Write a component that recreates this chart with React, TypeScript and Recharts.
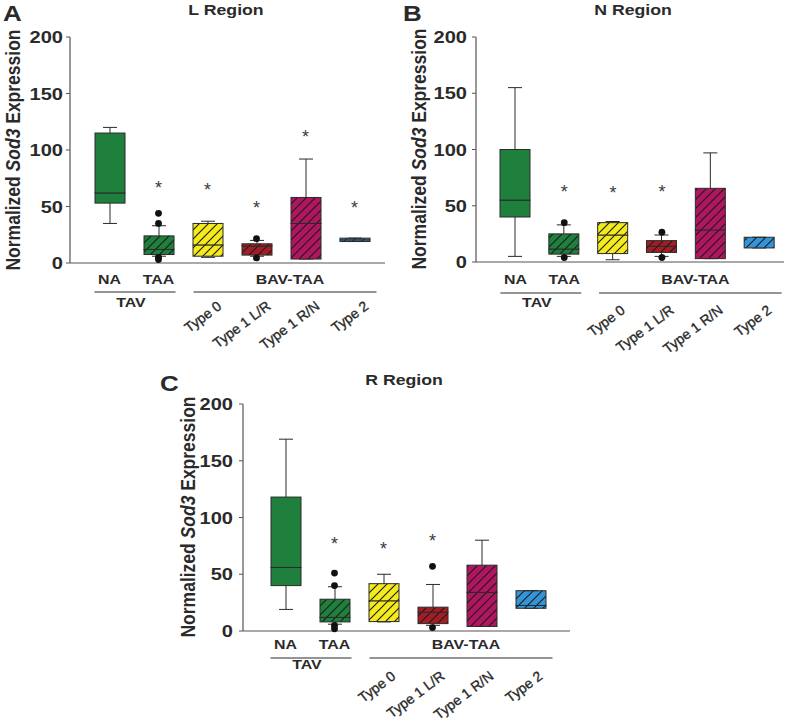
import { Bar, ComposedChart, Line, XAxis, YAxis } from "recharts";

const FONT = "Arial, 'Liberation Sans', Helvetica, sans-serif";
const INK = "#2a2a2a";
const STRETCH = 1.18;

const CATEGORIES = ["NA", "TAA", "Type 0", "Type 1 L/R", "Type 1 R/N", "Type 2"];
const Y_TICKS = [0, 50, 100, 150, 200];

// per-category fill; NA is the only solid box, the rest are hatched
const COLORS = ["#1f7f3c", "#1f7f3c", "#f4ea1c", "#a51d24", "#b0165f", "#3394d8"];
const HATCHED = [false, true, true, true, true, true];

// L region (panel A)
const L_MIN = [35, 6, 5, 6, 3.5, 19];
const L_Q1 = [53, 7.5, 6, 7, 3.5, 19];
const L_MEDIAN = [62, 12, 16, 15, 35, 20.5];
const L_Q3 = [115, 24, 35, 17, 58, 22];
const L_MAX = [120, 33, 37, 20, 92, 22];
const L_OUTLIERS = [[], [44, 35, 5, 3], [], [21.5, 4.5], [], []];
const L_STARS = [null, 70, 68.5, 52, 115, 52];

// N region (panel B)
const N_MIN = [5, 5, 2, 5, 3, 12.5];
const N_Q1 = [40, 7, 7.5, 8.5, 3, 12.5];
const N_MEDIAN = [55, 11.5, 24, 14, 28.5, 22];
const N_Q3 = [100, 25, 35, 19, 65.5, 22];
const N_MAX = [155, 33, 36, 24, 97, 22];
const N_OUTLIERS = [[], [35, 4], [], [26.5, 4], [], []];
const N_STARS = [null, 66, 65, 66, null, null];

// R region (panel C)
const R_MIN = [19, 6, 8, 5, 4, 20];
const R_Q1 = [40, 8, 8.3, 6.5, 4, 20];
const R_MEDIAN = [56, 12, 26.6, 16.5, 34, 22.5];
const R_Q3 = [118, 28, 41.7, 21, 58, 35.5];
const R_MAX = [169, 39, 50, 41, 80, 35.5];
const R_OUTLIERS = [[], [51, 40, 5, 2], [], [57, 3], [], []];
const R_STARS = [null, 80, 76, 83, null, null];

const OUTLIER_KEYS = ["o0", "o1", "o2", "o3"];

function buildRows(
  min: number[],
  q1: number[],
  med: number[],
  q3: number[],
  max: number[],
  outliers: number[][],
  stars: (number | null)[]
) {
  return CATEGORIES.map((name, i) => {
    const row: Record<string, string | number | null> = {
      name,
      base: min[i],
      lowWhisker: q1[i] - min[i],
      lowBox: med[i] - q1[i],
      highBox: q3[i] - med[i],
      highWhisker: max[i] - q3[i],
      star: stars[i],
    };
    OUTLIER_KEYS.forEach((k, j) => {
      row[k] = outliers[i][j] ?? null;
    });
    return row;
  });
}

type PanelCfg = {
  id: string;
  left: number;
  top: number;
  width: number;
  height: number;
  margin: { top: number; right: number; bottom: number; left: number };
  yAxisWidth: number;
  yTickMargin: number;
  xAxisHeight: number;
  padLeft: number;
  padRight: number;
  labelDy: number;
  lineDy: number;
  groupDy: number;
  rotDx: number;
  rotDy: number;
};

function SText({
  x,
  y,
  size,
  weight = 700,
  anchor = "middle",
  children,
}: {
  x: number;
  y: number;
  size: number;
  weight?: number;
  anchor?: "start" | "middle" | "end";
  children: React.ReactNode;
}) {
  return (
    <text
      transform={`translate(${x},${y}) scale(${STRETCH},1)`}
      textAnchor={anchor}
      fontFamily={FONT}
      fontSize={size}
      fontWeight={weight}
      fill={INK}
    >
      {children}
    </text>
  );
}

function YTick(props: any) {
  const { x, y, payload } = props;
  return (
    <text
      transform={`translate(${x},${y}) scale(${STRETCH},1)`}
      textAnchor="end"
      dy="0.36em"
      fontFamily={FONT}
      fontSize={17}
      fontWeight={700}
      fill={INK}
    >
      {payload.value}
    </text>
  );
}

function makeXTick(cfg: PanelCfg) {
  const plotW = cfg.width - cfg.margin.left - cfg.margin.right - cfg.yAxisWidth;
  const step = (plotW - cfg.padLeft - cfg.padRight) / CATEGORIES.length;
  return function XTick(props: any) {
    const { x, y, index, payload } = props;
    const label = String(payload.value);
    if (index < 2) {
      return (
        <g>
          <SText x={x} y={y + cfg.labelDy} size={13.5}>
            {label}
          </SText>
          {index === 0 && (
            <g>
              <line
                x1={x - 15}
                x2={x + step + 17}
                y1={y + cfg.lineDy}
                y2={y + cfg.lineDy}
                stroke={INK}
                strokeWidth={1.2}
              />
              <SText x={x + (step + 2) / 2 - 4} y={y + cfg.groupDy} size={13.5}>
                TAV
              </SText>
            </g>
          )}
        </g>
      );
    }
    return (
      <g>
        <text
          transform={`translate(${x + cfg.rotDx},${y + cfg.rotDy}) rotate(-37)`}
          textAnchor="end"
          fontFamily={FONT}
          fontSize={14}
          fill={INK}
          stroke={INK}
          strokeWidth={0.35}
        >
          {label}
        </text>
        {index === 2 && (
          <g>
            <line
              x1={x - 14}
              x2={x + 3 * step + 22}
              y1={y + cfg.lineDy}
              y2={y + cfg.lineDy}
              stroke={INK}
              strokeWidth={1.2}
            />
            <SText x={x + (3 * step + 8) / 2 + 5} y={y + cfg.labelDy} size={13.5}>
              BAV-TAA
            </SText>
          </g>
        )}
      </g>
    );
  };
}

const CAP = 7;

function LowWhisker(p: any) {
  const cx = p.x + p.width / 2;
  const bottom = p.y + p.height;
  return (
    <g>
      <line x1={cx} x2={cx} y1={p.y} y2={bottom} stroke={INK} strokeWidth={1} />
      <line x1={cx - CAP} x2={cx + CAP} y1={bottom} y2={bottom} stroke={INK} strokeWidth={1} />
    </g>
  );
}

function HighWhisker(p: any) {
  const cx = p.x + p.width / 2;
  return (
    <g>
      <line x1={cx} x2={cx} y1={p.y} y2={p.y + p.height} stroke={INK} strokeWidth={1} />
      <line x1={cx - CAP} x2={cx + CAP} y1={p.y} y2={p.y} stroke={INK} strokeWidth={1} />
    </g>
  );
}

function makeBoxShape(id: string) {
  return function BoxShape(p: any) {
    const i = CATEGORIES.indexOf(p.payload.name);
    const fill = HATCHED[i] ? `url(#${id}-hatch-${i})` : COLORS[i];
    return (
      <rect
        x={p.x}
        y={p.y}
        width={p.width}
        height={Math.max(p.height, 0)}
        fill={fill}
        stroke={INK}
        strokeWidth={1}
      />
    );
  };
}

function OutlierDot(p: any) {
  if (p.value == null || p.cy == null || Number.isNaN(p.cy)) return <g key={p.key} />;
  return <circle key={p.key} cx={p.cx} cy={p.cy} r={3.4} fill="#111" />;
}

function StarDot(p: any) {
  if (p.value == null || p.cy == null || Number.isNaN(p.cy)) return <g key={p.key} />;
  return (
    <text
      key={p.key}
      x={p.cx}
      y={p.cy + 10}
      textAnchor="middle"
      fontFamily={FONT}
      fontSize={18}
      fill="#3a3a3a"
    >
      *
    </text>
  );
}

function Panel({ cfg, data }: { cfg: PanelCfg; data: Record<string, string | number | null>[] }) {
  const XTick = makeXTick(cfg);
  const BoxShape = makeBoxShape(cfg.id);
  return (
    <div style={{ position: "absolute", left: cfg.left, top: cfg.top }}>
      <ComposedChart width={cfg.width} height={cfg.height} data={data} margin={cfg.margin} barSize={30}>
        <defs>
          {COLORS.map((c, i) => (
            <pattern
              key={i}
              id={`${cfg.id}-hatch-${i}`}
              patternUnits="userSpaceOnUse"
              width={9}
              height={9}
            >
              <rect width={9} height={9} fill={c} />
              <path d="M0,9 L9,0 M-3,3 L3,-3 M6,12 L12,6" stroke="#1a1a1a" strokeWidth={1.1} />
            </pattern>
          ))}
        </defs>
        <XAxis
          dataKey="name"
          type="category"
          interval={0}
          height={cfg.xAxisHeight}
          padding={{ left: cfg.padLeft, right: cfg.padRight }}
          axisLine={{ stroke: "#555", strokeWidth: 1.2 }}
          tickLine={false}
          tickSize={0}
          tickMargin={0}
          tick={XTick}
        />
        <YAxis
          domain={[0, 200]}
          ticks={Y_TICKS}
          interval={0}
          width={cfg.yAxisWidth}
          axisLine={{ stroke: "#555", strokeWidth: 1.2 }}
          tickLine={{ stroke: "#555" }}
          tickSize={4}
          tickMargin={cfg.yTickMargin}
          tick={YTick}
        />
        <Bar dataKey="base" stackId="box" fill="none" isAnimationActive={false} />
        <Bar dataKey="lowWhisker" stackId="box" shape={LowWhisker} isAnimationActive={false} />
        <Bar dataKey="lowBox" stackId="box" shape={BoxShape} isAnimationActive={false} />
        <Bar dataKey="highBox" stackId="box" shape={BoxShape} isAnimationActive={false} />
        <Bar dataKey="highWhisker" stackId="box" shape={HighWhisker} isAnimationActive={false} />
        {OUTLIER_KEYS.map((k) => (
          <Line
            key={k}
            dataKey={k}
            stroke="none"
            dot={OutlierDot}
            activeDot={false}
            legendType="none"
            isAnimationActive={false}
          />
        ))}
        <Line
          dataKey="star"
          stroke="none"
          dot={StarDot}
          activeDot={false}
          legendType="none"
          isAnimationActive={false}
        />
      </ComposedChart>
    </div>
  );
}

const PANEL_A: PanelCfg = {
  id: "pa",
  left: 0,
  top: 0,
  width: 400,
  height: 370,
  margin: { top: 37, right: 15, bottom: 0, left: 0 },
  yAxisWidth: 70,
  yTickMargin: 3,
  xAxisHeight: 107,
  padLeft: 15,
  padRight: 6,
  labelDy: 21,
  lineDy: 29,
  groupDy: 44,
  rotDx: 15,
  rotDy: 45,
};

const PANEL_B: PanelCfg = {
  id: "pb",
  left: 400,
  top: 0,
  width: 400,
  height: 370,
  margin: { top: 37, right: 16, bottom: 0, left: 0 },
  yAxisWidth: 76,
  yTickMargin: 5,
  xAxisHeight: 108,
  padLeft: 15,
  padRight: 0,
  labelDy: 22,
  lineDy: 31,
  groupDy: 45,
  rotDx: 13,
  rotDy: 50,
};

const PANEL_C: PanelCfg = {
  id: "pc",
  left: 170,
  top: 360,
  width: 420,
  height: 365,
  margin: { top: 44, right: 20, bottom: 0, left: 0 },
  yAxisWidth: 73,
  yTickMargin: 6,
  xAxisHeight: 94,
  padLeft: 18,
  padRight: 15,
  labelDy: 18,
  lineDy: 27,
  groupDy: 38,
  rotDx: 13,
  rotDy: 47,
};

function YLabel({ x, y }: { x: number; y: number }) {
  return (
    <text
      transform={`translate(${x},${y}) scale(${STRETCH},1) rotate(-90)`}
      textAnchor="middle"
      dy="0.35em"
      fontFamily={FONT}
      fontSize={17.5}
      fontWeight={700}
      fill={INK}
    >
      Normalized <tspan fontStyle="italic">Sod3</tspan> Expression
    </text>
  );
}

export default function App() {
  const lRows = buildRows(L_MIN, L_Q1, L_MEDIAN, L_Q3, L_MAX, L_OUTLIERS, L_STARS);
  const nRows = buildRows(N_MIN, N_Q1, N_MEDIAN, N_Q3, N_MAX, N_OUTLIERS, N_STARS);
  const rRows = buildRows(R_MIN, R_Q1, R_MEDIAN, R_Q3, R_MAX, R_OUTLIERS, R_STARS);

  return (
    <div
      style={{
        position: "absolute",
        left: 0,
        top: 0,
        width: 800,
        height: 725,
        background: "#fff",
        overflow: "hidden",
      }}
    >
      <Panel cfg={PANEL_A} data={lRows} />
      <Panel cfg={PANEL_B} data={nRows} />
      <Panel cfg={PANEL_C} data={rRows} />
      <svg
        width={800}
        height={725}
        style={{ position: "absolute", left: 0, top: 0, pointerEvents: "none" }}
      >
        <SText x={3} y={21} size={22} anchor="start">A</SText>
        <SText x={226} y={15} size={15}>L Region</SText>
        <SText x={403} y={21} size={22} anchor="start">B</SText>
        <SText x={633} y={15} size={15}>N Region</SText>
        <SText x={160} y={391} size={22} anchor="start">C</SText>
        <SText x={404} y={385} size={15}>R Region</SText>
        <YLabel x={13} y={150} />
        <YLabel x={419} y={149} />
        <YLabel x={188} y={517} />
      </svg>
    </div>
  );
}
